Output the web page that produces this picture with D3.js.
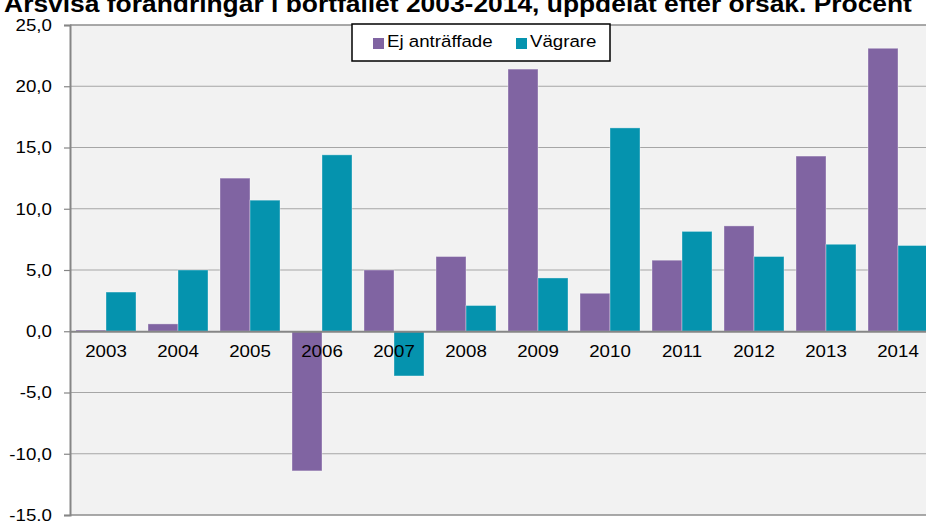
<!DOCTYPE html>
<html lang="sv">
<head>
    <meta charset="UTF-8">
    <title>Bortfall per orsak</title>
    <script src="https://cdn.jsdelivr.net/npm/d3@7"></script>
    <style>
        html, body {
            margin: 0;
            background: #ffffff;
            font-family: Arial, "Liberation Sans", sans-serif;
        }
        svg { display: block; }
    </style>
</head>
<body>
    <div id="vis"></div>
    <script>
        // data
        var years = ['2003', '2004', '2005', '2006', '2007', '2008', '2009', '2010', '2011', '2012', '2013', '2014'];
        var series = ['Ej anträffade', 'Vägrare'];
        var ejAntraffade = [0.1, 0.6, 12.5, -11.4, 5.0, 6.1, 21.4, 3.1, 5.8, 8.6, 14.3, 23.1];
        var vagrare = [3.2, 5.0, 10.7, 14.4, -3.65, 2.1, 4.35, 16.6, 8.15, 6.1, 7.1, 7.0];
        var yTicks = [-15, -10, -5, 0, 5, 10, 15, 20, 25];
        var colours = ['#8064a2', '#0593ae'];

        var width = 926, height = 521;
        var margin = {top: 25, right: -8, bottom: 6, left: 70};
        var stretch = 'scale(1.1,1)';   // the original text is a bit wider than plain Arial

        var svg = d3.select('#vis')
            .append('svg')
            .attr('width', width)
            .attr('height', height);

        var x0 = d3.scaleBand()
            .domain(years)
            .range([margin.left, width - margin.right]);

        var x1 = d3.scaleBand()
            .domain(series)
            .range([6, x0.bandwidth() - 6]);

        var y = d3.scaleLinear()
            .domain([-15, 25])
            .range([height - margin.bottom, margin.top]);

        // plot background
        svg.append('rect')
            .attr('x', margin.left)
            .attr('y', y(25))
            .attr('width', width - margin.left)
            .attr('height', y(-15) - y(25))
            .attr('fill', '#f2f2f2');

        // gridlines
        svg.append('g')
            .selectAll('line')
            .data(yTicks.filter(function(d){ return d !== 0; }))
            .enter()
            .append('line')
            .attr('x1', margin.left)
            .attr('x2', width)
            .attr('y1', function(d){ return y(d); })
            .attr('y2', function(d){ return y(d); })
            .attr('stroke', function(d){ return (d === 25 || d === -15) ? '#8c8c8c' : '#a6a6a6'; })
            .attr('stroke-width', function(d){ return (d === 25 || d === -15) ? 1.5 : 1.2; });

        // y axis
        var yAxis = d3.axisLeft(y)
            .tickValues(yTicks)
            .tickSize(6)
            .tickFormat(function(d){ return d3.format('.1f')(d).replace('.', ',').replace('−', '-'); });

        var gy = svg.append('g')
            .attr('transform', 'translate(' + margin.left + ',0)')
            .call(yAxis);
        gy.select('.domain').attr('stroke', '#868686').attr('stroke-width', 2);
        gy.selectAll('.tick line').attr('stroke', '#868686').attr('stroke-width', 1.2);
        gy.selectAll('.tick text')
            .attr('x', -16.4)
            .attr('transform', stretch)
            .attr('fill', '#000')
            .style('font-size', '17px')
            .style('font-family', 'Arial, "Liberation Sans", sans-serif');

        // bars
        var rows = years.map(function(yr, i){
            return {year: yr, values: [ejAntraffade[i], vagrare[i]]};
        });

        var groups = svg.append('g')
            .selectAll('g')
            .data(rows)
            .enter()
            .append('g')
            .attr('transform', function(d){ return 'translate(' + x0(d.year) + ',0)'; });

        groups.selectAll('rect')
            .data(function(d){
                return d.values.map(function(v, j){ return {key: series[j], value: v, idx: j}; });
            })
            .enter()
            .append('rect')
            .attr('x', function(d){ return x1(d.key); })
            .attr('width', x1.bandwidth())
            .attr('y', function(d){ return y(Math.max(0, d.value)); })
            .attr('height', function(d){ return Math.abs(y(d.value) - y(0)); })
            .attr('fill', function(d){ return colours[d.idx]; })
            .attr('stroke', 'rgba(255,255,255,0.35)')
            .attr('stroke-width', 1);

        // zero line (x axis)
        var xAxis = d3.axisBottom(x0).tickSize(0).tickPadding(14);
        var gx = svg.append('g')
            .attr('transform', 'translate(0,' + y(0) + ')')
            .call(xAxis);
        gx.select('.domain').attr('stroke', '#868686').attr('stroke-width', 2);
        gx.selectAll('.tick text')
            .attr('transform', stretch)
            .attr('fill', '#000')
            .style('font-size', '17px')
            .style('font-family', 'Arial, "Liberation Sans", sans-serif');

        // legend
        var legend = svg.append('g').attr('transform', 'translate(352,24)');
        legend.append('rect')
            .attr('width', 258)
            .attr('height', 37)
            .attr('fill', '#ffffff')
            .attr('stroke', '#000')
            .attr('stroke-width', 1.5);

        var legendX = [21, 164];
        var items = legend.selectAll('.item')
            .data(series)
            .enter()
            .append('g')
            .attr('class', 'item')
            .attr('transform', function(d, i){ return 'translate(' + legendX[i] + ',0)'; });
        items.append('rect')
            .attr('y', 14)
            .attr('width', 11)
            .attr('height', 11)
            .attr('fill', function(d, i){ return colours[i]; });
        items.append('text')
            .attr('transform', 'translate(14,23) ' + stretch)
            .style('font-size', '17px')
            .text(function(d){ return d; });

        // title, cut by the top edge like in the original
        svg.append('text')
            .attr('transform', 'translate(458,12) ' + stretch)
            .attr('text-anchor', 'middle')
            .style('font-size', '24px')
            .style('font-weight', 'bold')
            .text('Årsvisa förändringar i bortfallet 2003-2014, uppdelat efter orsak. Procent');
    </script>
</body>
</html>
